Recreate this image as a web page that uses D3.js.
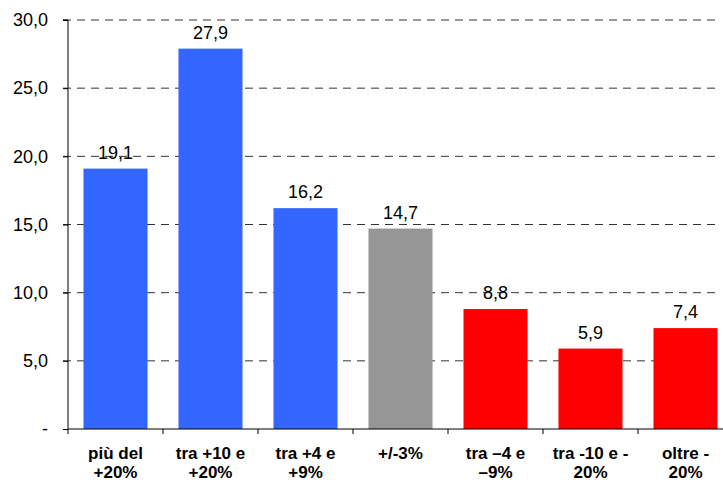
<!DOCTYPE html>
<html><head><meta charset="utf-8">
<script src="https://cdn.jsdelivr.net/npm/d3@7"></script>
<style>body{margin:0;background:#fff;} svg{display:block;font-family:"Liberation Sans",Arial,sans-serif;}</style>
</head><body>
<svg id="c" width="723" height="482"></svg>
<script>
const categories = [["più del","+20%"],["tra +10 e","+20%"],["tra +4 e","+9%"],["+/-3%",""],["tra –4 e","–9%"],["tra -10 e -","20%"],["oltre -","20%"]];
const values = [19.1, 27.9, 16.2, 14.7, 8.8, 5.9, 7.4];
const barColors = ["#3366FF","#3366FF","#3366FF","#969696","#FF0000","#FF0000","#FF0000"];
const yTicks = [0,5,10,15,20,25,30];
const yTickLabels = ["-","5,0","10,0","15,0","20,0","25,0","30,0"];

(function(){
const svg = d3.select("#c");
const mLeft = 68, mRight = 733, mTop = 20, mBottom = 429;
const x = d3.scaleBand().domain(d3.range(values.length)).range([mLeft, mRight]).paddingInner(0.326).paddingOuter(0.163);
const y = d3.scaleLinear().domain([0,30]).range([mBottom, mTop]);

// gridlines
svg.append("g").selectAll("line").data(yTicks.filter(d=>d>0)).join("line")
  .attr("x1", 63).attr("x2", 718).attr("y1", d=>y(d)).attr("y2", d=>y(d))
  .attr("stroke", "#333").attr("stroke-width", 1).attr("stroke-dasharray", "8,6");

// bars
svg.append("g").selectAll("rect").data(values).join("rect")
  .attr("x", (d,i)=>x(i)).attr("width", x.bandwidth())
  .attr("y", d=>y(d)).attr("height", d=>mBottom - y(d))
  .attr("fill", (d,i)=>barColors[i]);

// y axis
const yAxis = d3.axisLeft(y).tickValues(yTicks).tickSize(5).tickPadding(15)
  .tickFormat((d,i)=>yTickLabels[i]);
const gy = svg.append("g").attr("transform", `translate(${mLeft},0)`).call(yAxis);
gy.select(".domain").attr("d", `M-5,${mTop}H0V${mBottom}`).attr("stroke","#000");
gy.selectAll("line").attr("stroke","#000");
gy.selectAll("text").attr("font-size", 18).attr("fill","#000").style("font-family","Liberation Sans, Arial, sans-serif");

// x axis
const tickPos = d3.range(values.length+1).map(i => mLeft + i*(mRight-mLeft)/values.length);
svg.append("line").attr("x1", mLeft).attr("x2", mRight).attr("y1", mBottom).attr("y2", mBottom).attr("stroke","#000");
svg.append("g").selectAll("line").data(tickPos).join("line")
  .attr("x1", d=>d).attr("x2", d=>d).attr("y1", mBottom).attr("y2", mBottom+5).attr("stroke","#000");

// category labels
const cl = svg.append("g").selectAll("text").data(categories).join("text")
  .attr("x", (d,i)=>x(i)+x.bandwidth()/2).attr("y", 459)
  .attr("text-anchor","middle").attr("font-size", 17).attr("font-weight","bold").attr("fill","#000");
cl.append("tspan").attr("x", (d,i)=>x(i)+x.bandwidth()/2).text(d=>d[0]);
cl.append("tspan").attr("x", (d,i)=>x(i)+x.bandwidth()/2).attr("dy", 19).text(d=>d[1]);

// value labels
svg.append("g").selectAll("text").data(values).join("text")
  .attr("x", (d,i)=>x(i)+x.bandwidth()/2).attr("y", d=>y(d)-10)
  .attr("text-anchor","middle").attr("font-size", 18).attr("fill","#000")
  .text(d=>d.toFixed(1).replace(".", ","));
})();
</script>
</body></html>
